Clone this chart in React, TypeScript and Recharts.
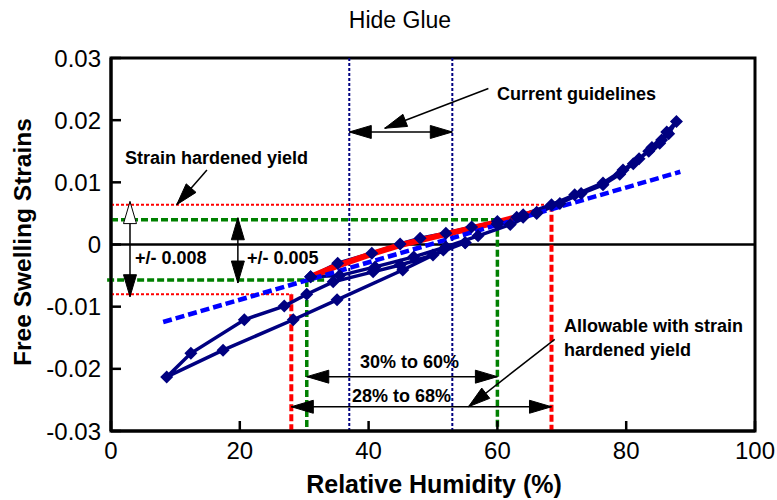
import { LineChart, Line, XAxis, YAxis, ReferenceLine, ReferenceArea } from "recharts";

// Hide glue free swelling strain vs relative humidity
const FONT = "'Liberation Sans', Arial, sans-serif";
const NAVY = "#000080";

const xTicks = [0, 20, 40, 60, 80, 100];
const yTicks = [-0.03, -0.02, -0.01, 0, 0.01, 0.02, 0.03];

// low RH cycle
const lowRH = [55, 51.6, 45.3, 35.1, 28.3, 17.4, 8.65, 12.4, 20.7, 26.9, 30.4, 34.5, 40.7, 44.9, 50, 55];
const lowStrain = [0.0003, -0.0009, -0.0041, -0.0089, -0.0121, -0.017, -0.0213, -0.0175, -0.0121, -0.0099, -0.008, -0.006, -0.0044, -0.0033, -0.0017, 0.0003];

// mid RH cycle
const midRH = [31, 35.2, 40.5, 44.9, 48, 52, 56, 60, 63, 66.1, 62, 57, 52, 47, 41, 35.5, 31];
const midStrain = [-0.0052, -0.003, -0.0014, 0.0001, 0.001, 0.0018, 0.0028, 0.0037, 0.0044, 0.0052, 0.0032, 0.0014, -0.0004, -0.002, -0.0036, -0.005, -0.0052];

// high RH cycle
const highRH = [60, 64, 66.1, 69.7, 73, 76.4, 79, 81.1, 83.5, 85.2, 86.3, 87.8, 86.6, 85.5, 84, 82, 79.5, 76.4, 72, 68.4, 64, 60];
const highStrain = [0.0033, 0.0044, 0.005, 0.0066, 0.0082, 0.0096, 0.0113, 0.013, 0.015, 0.0163, 0.0181, 0.0198, 0.0178, 0.0168, 0.0156, 0.0138, 0.012, 0.0099, 0.008, 0.0064, 0.0048, 0.0033];

// strain hardened yield band (red)
const yieldRH = [31, 35.2, 40.5, 44.9, 50, 55, 60, 65.5];
const yieldStrain = [-0.0052, -0.0034, -0.0015, -0.0001, 0.0012, 0.0024, 0.0036, 0.0051];

// linear trend (blue dashed)
const trendRH = [8.1, 88.4];
const trendStrain = [-0.01247, 0.0117];

const zip = (xs: number[], ys: number[]) => xs.map((x, i) => ({ x, y: ys[i] }));

const Diamond = (p: any) => {
  const { cx, cy, index } = p;
  if (cx == null || cy == null) return <g key={`n-${index}`} />;
  const r = 6.5;
  return (
    <path
      key={`d-${index}`}
      d={`M${cx},${cy - r} L${cx + r},${cy} L${cx},${cy + r} L${cx - r},${cy} Z`}
      fill={NAVY}
    />
  );
};

function head(x1: number, y1: number, x2: number, y2: number, fill: string, len = 22, half = 6.5) {
  const d = Math.hypot(x2 - x1, y2 - y1) || 1;
  const ux = (x2 - x1) / d;
  const uy = (y2 - y1) / d;
  const bx = x2 - ux * len;
  const by = y2 - uy * len;
  const px = -uy * half;
  const py = ux * half;
  return (
    <polygon
      points={`${x2},${y2} ${bx + px},${by + py} ${bx - px},${by - py}`}
      fill={fill}
      stroke="#000"
      strokeWidth={1}
    />
  );
}

type Head = "none" | "filled" | "hollow";
const arrow = (start: Head, end: Head, w = 1.5) => (p: any) => {
  const { x1, y1, x2, y2 } = p;
  return (
    <g>
      <line x1={x1} y1={y1} x2={x2} y2={y2} stroke="#000" strokeWidth={w} />
      {end !== "none" && head(x1, y1, x2, y2, end === "filled" ? "#000" : "#fff")}
      {start !== "none" && head(x2, y2, x1, y1, start === "filled" ? "#000" : "#fff")}
    </g>
  );
};

const note = { fontFamily: FONT, fontSize: 18, fontWeight: 700, fill: "#000" };

export default function App() {
  const seg = (x1: number, y1: number, x2: number, y2: number) => [
    { x: x1, y: y1 },
    { x: x2, y: y2 },
  ];
  return (
    <div style={{ position: "absolute", left: 0, top: 0 }}>
      <LineChart width={777} height={500} margin={{ top: 58, right: 22, bottom: 39, left: 0 }}>
        <XAxis
          type="number"
          dataKey="x"
          domain={[0, 100]}
          ticks={xTicks}
          allowDataOverflow
          height={30}
          tickSize={-10}
          tickMargin={21}
          tickLine={{ stroke: "#000", strokeWidth: 2.5 }}
          axisLine={{ stroke: "#000", strokeWidth: 3 }}
          tick={{ fill: "#000", fontSize: 24, fontFamily: FONT }}
        />
        <YAxis
          type="number"
          domain={[-0.03, 0.03]}
          ticks={yTicks}
          allowDataOverflow
          width={111}
          tickSize={-10}
          tickMargin={20}
          tickFormatter={(v: number) => String(v)}
          tickLine={{ stroke: "#000", strokeWidth: 2.5 }}
          axisLine={{ stroke: "#000", strokeWidth: 3 }}
          tick={{ fill: "#000", fontSize: 24, fontFamily: FONT }}
        />

        {/* current guidelines */}
        <ReferenceLine x={37} stroke={NAVY} strokeWidth={2} strokeDasharray="3 2" />
        <ReferenceLine x={53} stroke={NAVY} strokeWidth={2} strokeDasharray="3 2" />
        <ReferenceLine y={0} stroke="#000" strokeWidth={2.5} />

        {/* strain hardened yield limits */}
        <ReferenceLine segment={seg(0, 0.0064, 68.4, 0.0064)} stroke="#ff0000" strokeWidth={2} strokeDasharray="3 2" />
        <ReferenceLine segment={seg(0, -0.008, 28, -0.008)} stroke="#ff0000" strokeWidth={2} strokeDasharray="3 2" />
        <ReferenceLine segment={seg(28, -0.008, 28, -0.03)} stroke="#ff0000" strokeWidth={4} strokeDasharray="7 3" />
        <ReferenceLine segment={seg(68.4, 0.0064, 68.4, -0.03)} stroke="#ff0000" strokeWidth={4} strokeDasharray="7 3" />

        {/* +/- 0.005 limits */}
        <ReferenceLine segment={seg(0, 0.004, 60, 0.004)} stroke="#008000" strokeWidth={3.5} strokeDasharray="7 3" />
        <ReferenceLine segment={seg(-0.6, -0.0057, 33.3, -0.0057)} stroke="#008000" strokeWidth={3.5} strokeDasharray="7 3" ifOverflow="visible" />
        <ReferenceLine segment={seg(30.4, -0.0057, 30.4, -0.03)} stroke="#008000" strokeWidth={3.5} strokeDasharray="7 3" />
        <ReferenceLine segment={seg(60, 0.004, 60, -0.03)} stroke="#008000" strokeWidth={3.5} strokeDasharray="7 3" />

        <Line data={zip(lowRH, lowStrain)} dataKey="y" type="linear" stroke={NAVY} strokeWidth={3.5} dot={Diamond} activeDot={false} isAnimationActive={false} />
        <Line data={zip(midRH, midStrain)} dataKey="y" type="linear" stroke={NAVY} strokeWidth={3.5} dot={Diamond} activeDot={false} isAnimationActive={false} />
        <Line data={zip(highRH, highStrain)} dataKey="y" type="linear" stroke={NAVY} strokeWidth={3.5} dot={Diamond} activeDot={false} isAnimationActive={false} />
        <Line data={zip(yieldRH, yieldStrain)} dataKey="y" type="linear" stroke="#ff0000" strokeWidth={6} dot={false} activeDot={false} isAnimationActive={false} />
        <Line data={zip(trendRH, trendStrain)} dataKey="y" type="linear" stroke="#0000ff" strokeWidth={4.5} strokeDasharray="9 4" dot={false} activeDot={false} isAnimationActive={false} />

        {/* arrows */}
        <ReferenceLine segment={seg(37, 0.0181, 53, 0.0181)} ifOverflow="visible" shape={arrow("filled", "filled")} />
        <ReferenceLine segment={seg(58.6, 0.0251, 42.5, 0.0187)} ifOverflow="visible" shape={arrow("none", "filled")} />
        <ReferenceLine segment={seg(14.9, 0.012, 10.2, 0.0064)} ifOverflow="visible" shape={arrow("none", "filled")} />
        <ReferenceLine segment={seg(2.95, 0.0069, 2.95, -0.0084)} ifOverflow="visible" shape={arrow("hollow", "filled")} />
        <ReferenceLine segment={seg(19.7, 0.0043, 19.7, -0.0062)} ifOverflow="visible" shape={arrow("filled", "filled")} />
        <ReferenceLine segment={seg(30.4, -0.02126, 60, -0.02126)} ifOverflow="visible" shape={arrow("filled", "filled")} />
        <ReferenceLine segment={seg(28, -0.0261, 68.4, -0.0261)} ifOverflow="visible" shape={arrow("filled", "filled")} />
        <ReferenceLine segment={seg(68.9, -0.01525, 55.5, -0.0261)} ifOverflow="visible" shape={arrow("none", "filled")} />

        <ReferenceArea x1={0} x2={100} y1={-0.03} y2={0.03} fill="none" stroke="#000" strokeWidth={3} ifOverflow="visible" />

        <text x={400} y={28} textAnchor="middle" style={{ fontFamily: FONT, fontSize: 23, fill: "#000" }}>Hide Glue</text>
        <text x={434} y={493} textAnchor="middle" style={{ fontFamily: FONT, fontSize: 25, fontWeight: 700, fill: "#000" }}>Relative Humidity (%)</text>
        <text x={30.5} y={242} textAnchor="middle" transform="rotate(-90 30.5 242)" style={{ fontFamily: FONT, fontSize: 24.5, fontWeight: 700, fill: "#000" }}>Free Swelling Strains</text>

        <text x={497} y={100} style={note}>Current guidelines</text>
        <text x={125} y={164} style={note}>Strain hardened yield</text>
        <text x={135} y={264} style={note}>+/- 0.008</text>
        <text x={247} y={264} style={note}>+/- 0.005</text>
        <text x={564} y={332} style={note}>Allowable with strain</text>
        <text x={564} y={356} style={note}>hardened yield</text>
        <text x={360} y={368} style={note}>30% to 60%</text>
        <text x={352} y={402} style={note}>28% to 68%</text>
      </LineChart>
    </div>
  );
}
